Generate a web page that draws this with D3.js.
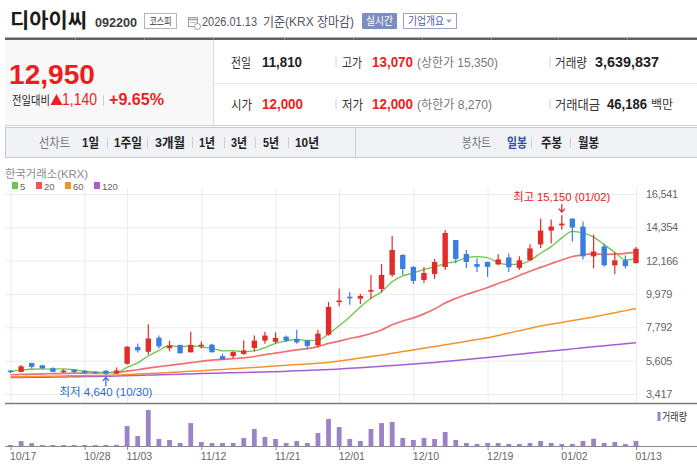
<!DOCTYPE html>
<html><head><meta charset="utf-8">
<script src="https://cdn.jsdelivr.net/npm/d3@7"></script>
<style>
html,body{margin:0;padding:0;background:#fff;}
svg{display:block;}
text{font-family:'Liberation Sans',Arial,'Noto Sans CJK KR',sans-serif;}
</style></head><body>
<svg id="c" width="697" height="474"></svg>
<script>
const dates = ["10/17","10/20","10/21","10/22","10/23","10/24","10/27","10/28","10/29","10/30",
"10/31","11/03","11/04","11/05","11/06","11/07","11/10","11/11","11/12","11/13",
"11/14","11/17","11/18","11/19","11/20","11/21","11/24","11/25","11/26","11/27",
"11/28","12/01","12/02","12/03","12/04","12/05","12/08","12/09","12/10","12/11",
"12/12","12/15","12/16","12/17","12/18","12/19","12/22","12/23","12/24","12/26",
"12/29","12/30","01/02","01/05","01/06","01/07","01/08","01/09","01/12","01/13"];
const opens = [4950,4870,5450,5300,5110,4920,5030,4940,4870,4950,
4750,5400,6500,6190,7110,6420,6640,6150,6620,6660,
5900,5900,6050,6440,6920,6840,7180,7030,6920,6610,
7310,9500,9800,9680,10200,10310,11230,12540,11750,10900,
11290,11750,13520,12600,11950,12080,11920,12380,11690,12190,
13230,14140,14480,14930,14400,12450,13100,11860,12190,12000];
const highs = [5000,5320,5470,5310,5180,5050,5040,4980,4900,4980,
5160,6550,6730,8000,7260,6920,6650,7510,6860,6720,
6050,6230,6920,7250,7510,7460,7250,7640,6920,7640,
9460,10340,10110,9980,11230,11950,13790,12610,11820,11750,
12280,14180,13530,12870,12340,12100,12580,12640,12450,13250,
14930,14860,15150,14940,14730,13880,13300,12710,12510,13070];
const lows = [4780,4850,5070,5030,4860,4800,4800,4770,4740,4640,
4740,5350,6140,5990,6410,6220,6080,6150,6400,6150,
5680,5760,5970,6220,6720,6720,6850,6720,6350,6480,
7250,9180,9280,9330,9650,10090,11100,11230,10640,10700,
10970,11560,11990,11690,11420,11100,11860,11420,11550,12180,
12990,13300,14210,13430,12250,11660,11790,11270,11660,12000];
const closes = [4850,5230,5200,5100,4870,4950,4850,4800,4810,4740,
4960,6520,6280,7060,6540,6590,6090,6640,6650,6150,
5680,6170,6280,6920,7250,7100,6920,6810,6570,7380,
9130,9550,9740,9850,10240,11230,12870,11620,10840,11360,
12080,13980,12280,12080,11760,11760,12250,11730,12190,12970,
14140,14410,14600,14340,12450,12770,11860,12190,11810,12950];
const volumes = [712000,3580000,2050000,690000,720000,700000,680000,710000,650000,760000,
820000,14600000,7250000,26200000,5100000,4350000,2200000,16700000,2900000,2150000,
2180000,2200000,5800000,12400000,6550000,5100000,2150000,3600000,2200000,9450000,
19650000,13800000,5100000,3650000,12400000,16700000,17500000,5800000,4400000,5800000,
5100000,10200000,4400000,2200000,1500000,2200000,2150000,1450000,1500000,2200000,
3650000,2200000,1450000,1500000,3650000,5300000,2200000,2900000,1450000,3639837];
const ma5 = [4900,4980,5040,5060,5050,5070,4994,4914,4856,4830,
4832,5166,5462,5912,6272,6598,6512,6584,6502,6424,
6242,6258,6186,6240,6460,6744,6894,7000,6930,6956,
7362,7888,8474,9130,9702,10122,10786,11162,11360,11584,
11754,11976,12108,12356,12436,12372,12026,11916,11938,12180,
12656,13088,13662,14092,13988,13714,13204,12722,12216,12316];
const ma20 = [4680,4700,4720,4740,4750,4770,4780,4790,4800,4810,
4830,4920,5010,5120,5210,5300,5380,5470,5560,5644,
5686,5733,5787,5878,5997,6104,6208,6308,6396,6528,
6737,6888,7061,7201,7386,7618,7957,8206,8415,8676,
8996,9386,9686,9944,10170,10403,10669,10915,11196,11476,
11726,11969,12212,12437,12547,12624,12574,12602,12651,12730];
const ma60 = [4546,4556,4567,4577,4588,4598,4611,4624,4638,4651,
4664,4697,4730,4762,4795,4828,4867,4907,4946,4986,
5025,5071,5117,5162,5208,5254,5300,5346,5392,5438,
5484,5582,5681,5779,5878,5976,6088,6199,6311,6422,
6534,6648,6762,6877,6991,7105,7260,7415,7569,7724,
7879,7997,8115,8234,8352,8470,8609,8749,8888,9027];
const ma120 = [4500,4507,4513,4520,4526,4533,4546,4559,4572,4585,
4598,4618,4638,4657,4677,4697,4717,4736,4756,4775,
4795,4812,4829,4846,4863,4880,4908,4936,4964,4992,
5020,5062,5104,5146,5188,5230,5282,5334,5386,5438,
5490,5554,5619,5683,5748,5812,5884,5956,6029,6101,
6173,6241,6309,6378,6446,6514,6581,6649,6716,6783];
const priceTicks = [3417,5605,7792,9979,12166,14354,16541];
const dateTicks = ["10/17","10/28","11/03","11/12","11/21","12/01","12/10","12/19","01/02","01/13"];
const maNames = ["5","20","60","120"];
const maColors = ["#6cc64c","#ef5757","#f7922a","#a55dd6"];

const svg = d3.select("#c");
function txt(x, y, s, o) {
  o = o || {};
  const t = svg.append("text").attr("x", x).attr("y", y).text(s)
    .style("font-size", (o.size || 12) + "px")
    .attr("fill", o.fill || "#333");
  if (o.bold) t.style("font-weight", "bold");
  if (o.tl) t.attr("textLength", o.tl).attr("lengthAdjust", "spacingAndGlyphs");
  if (o.anchor) t.attr("text-anchor", o.anchor);
  return t;
}
function vline(x, y1, y2, c, w) {
  svg.append("line").attr("x1", x).attr("x2", x).attr("y1", y1).attr("y2", y2)
    .attr("stroke", c).attr("stroke-width", w || 1);
}
function hline(x1, x2, y, c, w) {
  svg.append("line").attr("x1", x1).attr("x2", x2).attr("y1", y).attr("y2", y)
    .attr("stroke", c).attr("stroke-width", w || 1);
}

/* ---------- header ---------- */
txt(10, 28, "디아이씨", {size: 20, bold: true, fill: "#1b1b1b", tl: 77});
txt(95, 27, "092200", {size: 13, bold: true, fill: "#3a3a3a", tl: 42});
svg.append("rect").attr("x", 144.5).attr("y", 13.5).attr("width", 32).attr("height", 15)
  .attr("fill", "#fff").attr("stroke", "#b5b5b5");
txt(160.5, 25, "코스피", {size: 10, fill: "#333", tl: 22, anchor: "middle"});
// calendar icon
svg.append("rect").attr("x", 188.5).attr("y", 17.5).attr("width", 9).attr("height", 9)
  .attr("fill", "#fff").attr("stroke", "#9a9a9a");
hline(188.5, 197.5, 19.5, "#9a9a9a", 1.5);
hline(190, 196, 22.5, "#c0c0c0");
svg.append("circle").attr("cx", 197.5).attr("cy", 26.5).attr("r", 3).attr("fill", "#fff").attr("stroke", "#9a9a9a");
txt(202, 26, "2026.01.13", {size: 13, fill: "#4e5560", tl: 55});
txt(263, 26, "기준(KRX 장마감)", {size: 13, fill: "#4e5560", tl: 91});
svg.append("rect").attr("x", 362).attr("y", 13).attr("width", 35).attr("height", 16)
  .attr("fill", "#7c8ebf").attr("rx", 1);
txt(379.5, 25, "실시간", {size: 11, fill: "#fff", tl: 27, anchor: "middle"});
svg.append("rect").attr("x", 403.5).attr("y", 13.5).attr("width", 53).attr("height", 15)
  .attr("fill", "#fff").attr("stroke", "#97a3cc");
txt(408, 25, "기업개요", {size: 11, fill: "#4d5d9c", tl: 36});
svg.append("path").attr("d", "M446,19.5 L452,19.5 L449,23 Z").attr("fill", "#9aa3c3");

// thick top line
svg.append("rect").attr("x", 5).attr("y", 37.5).attr("width", 692).attr("height", 2.5).attr("fill", "#5e6066");
[75,144,213,284,353,422,491,558,627].forEach(x => vline(x + 0.5, 37.5, 40, "#8a8c92"));

/* ---------- price panel ---------- */
svg.append("rect").attr("x", 5).attr("y", 40).attr("width", 208).attr("height", 85).attr("fill", "#f8f8f8");
vline(213.5, 40, 125, "#dcdcdc");
hline(213, 697, 83.5, "#e6e6e6");
hline(5, 697, 125.5, "#cfcfcf");
txt(9, 84, "12,950", {size: 28, bold: true, fill: "#f01c1c", tl: 86});
txt(12, 105, "전일대비", {size: 12, fill: "#222", tl: 38});
svg.append("path").attr("d", "M56.5,94 L62.5,105 L50.5,105 Z").attr("fill", "#ee2020");
txt(62, 105, "1,140", {size: 16, fill: "#f01c1c", tl: 35});
vline(103.5, 95, 106, "#cfcfcf");
txt(109, 105, "+9.65%", {size: 16, bold: true, fill: "#f01c1c", tl: 55});

const r1 = 66.5, r2 = 108.5;
txt(231, r1, "전일", {size: 13, fill: "#333", tl: 20});
txt(262, r1, "11,810", {size: 14, bold: true, fill: "#222", tl: 40});
vline(336, 57, 67, "#d0d0d0");
txt(342, r1, "고가", {size: 13, fill: "#333", tl: 20});
txt(372, r1, "13,070", {size: 14, bold: true, fill: "#f01c1c", tl: 41});
txt(417, r1, "(상한가 15,350)", {size: 12, fill: "#777", tl: 81});
vline(550, 57, 67, "#d0d0d0");
txt(555, r1, "거래량", {size: 13, fill: "#333", tl: 32});
txt(595, r1, "3,639,837", {size: 14, bold: true, fill: "#222", tl: 64});

txt(231, r2, "시가", {size: 13, fill: "#333", tl: 21});
txt(262, r2, "12,000", {size: 14, bold: true, fill: "#f01c1c", tl: 41});
vline(336, 99, 109, "#d0d0d0");
txt(342, r2, "저가", {size: 13, fill: "#333", tl: 21});
txt(372, r2, "12,000", {size: 14, bold: true, fill: "#f01c1c", tl: 41});
txt(417, r2, "(하한가 8,270)", {size: 12, fill: "#777", tl: 75});
vline(550, 99, 109, "#d0d0d0");
txt(555, r2, "거래대금", {size: 13, fill: "#333", tl: 45});
txt(607, r2, "46,186", {size: 14, bold: true, fill: "#222", tl: 40});
txt(651, r2, "백만", {size: 12, fill: "#333", tl: 22});

/* ---------- button bar ---------- */
svg.append("rect").attr("x", 5.5).attr("y", 127.5).attr("width", 692).attr("height", 30)
  .attr("fill", "#f1f2f6").attr("stroke", "#c9c9c9");
vline(355.5, 128, 157, "#cfcfcf");
const bb = 147;
txt(39, bb, "선차트", {size: 13, fill: "#777", tl: 31});
[["1일",82,17],["1주일",114,28],["3개월",155,30],["1년",199,16],["3년",231,16],["5년",263,16],["10년",295,24]]
  .forEach(d => txt(d[1], bb, d[0], {size: 13, bold: true, fill: "#222", tl: d[2]}));
[107.5,147.5,192.5,224.5,255.5,288.5].forEach(x => vline(x, 137, 148, "#cfcfcf"));
txt(462, bb, "봉차트", {size: 13, fill: "#777", tl: 29});
txt(507, bb, "일봉", {size: 13, bold: true, fill: "#2a4ea8", tl: 20});
vline(531.5, 137, 148, "#cfcfcf");
txt(541, bb, "주봉", {size: 13, bold: true, fill: "#222", tl: 21});
vline(570.5, 137, 148, "#cfcfcf");
txt(578, bb, "월봉", {size: 13, bold: true, fill: "#222", tl: 21});

/* ---------- chart legend ---------- */
txt(5, 177.5, "한국거래소(KRX)", {size: 11, fill: "#8a8a8a", tl: 83});
const legX = [12, 36, 65, 94];
maNames.forEach((n, i) => {
  svg.append("rect").attr("x", legX[i]).attr("y", 182).attr("width", 6).attr("height", 7).attr("fill", maColors[i]);
  txt(legX[i] + 8, 189.5, n, {size: 9.5, fill: "#666"});
});

/* ---------- scales ---------- */
const x = d3.scalePoint().domain(dates).range([10.5, 636]);
const y = d3.scaleLinear().domain([3417, 16541]).range([394, 194]);
const yv = d3.scaleLinear().domain([0, 30600000]).range([446, 404]);

// horizontal grid + price labels
const gy = svg.append("g").attr("transform", "translate(637,0)")
  .call(d3.axisRight(y).tickValues(priceTicks).tickSize(-632).tickPadding(9).tickFormat(d3.format(",")));
gy.select(".domain").remove();
gy.selectAll("line").attr("stroke", "#ebebeb");
gy.selectAll("text").attr("fill", "#666").style("font-size", "11px").style("letter-spacing", "-0.3px");

// vertical grid
const gx = svg.append("g").attr("transform", "translate(0,403)")
  .call(d3.axisBottom(x).tickValues(dateTicks).tickSize(-215).tickFormat(""));
gx.select(".domain").remove();
gx.selectAll("line").attr("stroke", "#ebebeb");

/* ---------- moving averages ---------- */
const line = d3.line().x((d, i) => x(dates[i])).y(d => y(d)).curve(d3.curveMonotoneX);
[[ma120, 3, 1.5], [ma60, 2, 1.5], [ma20, 1, 1.7], [ma5, 0, 1.3]].forEach(m => {
  svg.append("path").attr("d", line(m[0])).attr("fill", "none")
    .attr("stroke", maColors[m[1]]).attr("stroke-width", m[2]).attr("stroke-opacity", m[1] === 1 ? 0.85 : 1);
});

/* ---------- candles ---------- */
const up = "#e12d28", dn = "#3b7ee2";
const cg = svg.append("g");
dates.forEach((d, i) => {
  const c = closes[i] >= opens[i] ? up : dn;
  const cx = x(d);
  cg.append("line").attr("x1", cx).attr("x2", cx).attr("y1", y(highs[i])).attr("y2", y(lows[i]))
    .attr("stroke", c).attr("stroke-width", 1.2);
  const t = y(Math.max(opens[i], closes[i])), b = y(Math.min(opens[i], closes[i]));
  cg.append("rect").attr("x", cx - 2.7).attr("width", 5.4)
    .attr("y", t).attr("height", Math.max(1.6, b - t)).attr("fill", c);
});

/* ---------- high / low marks ---------- */
const fmt = d3.format(",");
const iMax = d3.maxIndex(highs), iMin = d3.minIndex(lows);
const hx = x(dates[iMax]), hy = y(highs[iMax]);
svg.append("path").attr("d", `M${hx},${hy - 11} L${hx},${hy - 3} M${hx - 3},${hy - 6.5} L${hx},${hy - 3} L${hx + 3},${hy - 6.5}`)
  .attr("fill", "none").attr("stroke", "#e52222").attr("stroke-width", 1.2);
txt(hx, hy - 14.5, `최고 ${fmt(highs[iMax])} (${dates[iMax]})`, {size: 11, fill: "#e52222", anchor: "middle", tl: 97});
const lx = x(dates[iMin]), ly = y(lows[iMin]);
svg.append("path").attr("d", `M${lx},${ly + 11} L${lx},${ly + 2} M${lx - 3},${ly + 5.5} L${lx},${ly + 2} L${lx + 3},${ly + 5.5}`)
  .attr("fill", "none").attr("stroke", "#2a6ad6").attr("stroke-width", 1.2);
txt(lx, ly + 20.5, `최저 ${fmt(lows[iMin])} (${dates[iMin]})`, {size: 11, fill: "#2a6ad6", anchor: "middle", tl: 93});

/* ---------- separator & volume ---------- */
hline(5, 697, 403.5, "#7c7c7c", 1.5);
svg.append("g").selectAll("rect").data(volumes).join("rect")
  .attr("x", (v, i) => x(dates[i]) - 2.4).attr("width", 4.8)
  .attr("y", v => yv(v)).attr("height", v => yv(0) - yv(v)).attr("fill", "#9c83c7");
svg.append("rect").attr("x", 657.5).attr("y", 412).attr("width", 3).attr("height", 9).attr("fill", "#9c83c7");
txt(662, 420.5, "거래량", {size: 11, fill: "#333", tl: 25});

hline(5, 697, 446.5, "#8a8a8a", 1);
const gd = svg.append("g").attr("transform", "translate(0,446)")
  .call(d3.axisBottom(x).tickValues(dateTicks).tickSize(4).tickPadding(3));
gd.select(".domain").remove();
gd.selectAll("line").attr("stroke", "#8a8a8a");
gd.selectAll("text").attr("text-anchor", "start").attr("dx", "-1")
  .attr("fill", "#666").style("font-size", "10.5px");
</script>
</body></html>
